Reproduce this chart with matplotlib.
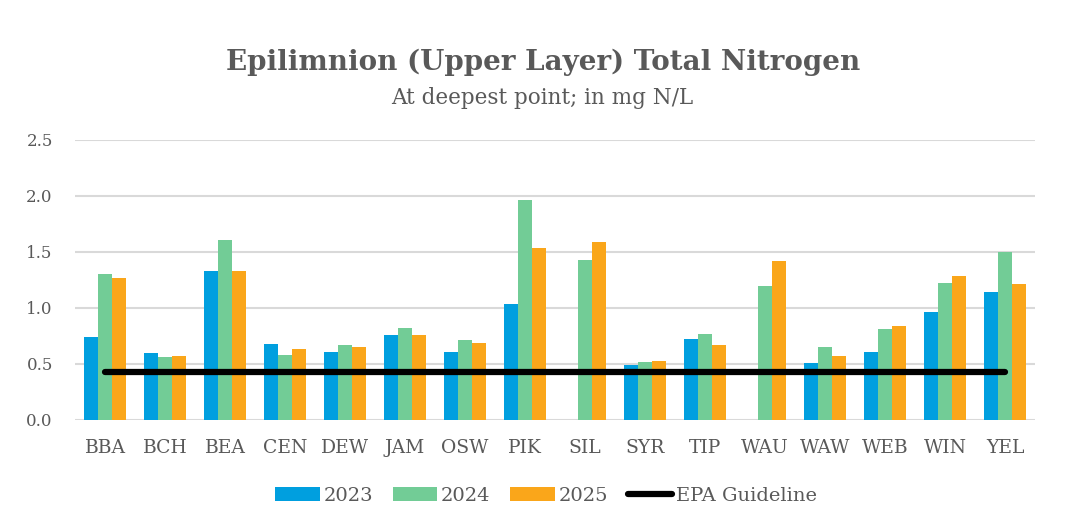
import matplotlib
matplotlib.use("Agg")
import matplotlib.pyplot as plt
import numpy as np
from matplotlib.patches import Patch
from matplotlib.lines import Line2D

categories = ["BBA", "BCH", "BEA", "CEN", "DEW", "JAM", "OSW", "PIK",
              "SIL", "SYR", "TIP", "WAU", "WAW", "WEB", "WIN", "YEL"]
v2023 = [0.74, 0.60, 1.33, 0.68, 0.61, 0.76, 0.61, 1.04,
         np.nan, 0.49, 0.72, np.nan, 0.51, 0.61, 0.96, 1.14]
v2024 = [1.30, 0.56, 1.61, 0.58, 0.67, 0.82, 0.71, 1.96,
         1.43, 0.52, 0.77, 1.20, 0.65, 0.81, 1.22, 1.50]
v2025 = [1.265, 0.57, 1.33, 0.63, 0.65, 0.76, 0.69, 1.54,
         1.59, 0.53, 0.67, 1.42, 0.57, 0.84, 1.29, 1.21]
epa_guideline = 0.43
series_names = ["2023", "2024", "2025"]
yticks = [0.0, 0.5, 1.0, 1.5, 2.0, 2.5]

colors = ["#009FDF", "#72CC96", "#FAA61A"]
text_color = "#595959"
grid_color = "#D9D9D9"
FONT = "DejaVu Serif"

fig = plt.figure(figsize=(10.77, 5.26), dpi=100)
ax = fig.add_axes([75/1077, 1-420/526, (1035-75)/1077, 280/526])

x = np.arange(len(categories))
bw = 0.233
for i, (vals, c) in enumerate(zip([v2023, v2024, v2025], colors)):
    ax.bar(x + (i-1)*bw, vals, width=bw, color=c, zorder=2)

ax.plot([x[0], x[-1]], [epa_guideline, epa_guideline], color="black", lw=4.5,
        solid_capstyle="round", zorder=3)

ax.set_xlim(-0.5, len(categories)-0.5)
ax.set_ylim(0, 2.5)
ax.set_yticks(yticks)
ax.set_yticklabels([f"{t:.1f}" for t in yticks], fontsize=12, color=text_color, family=FONT)
ax.set_xticks(x)
ax.set_xticklabels(categories, fontsize=13.5, color=text_color, family=FONT)
ax.tick_params(axis="both", length=0)
ax.tick_params(axis="y", pad=16)
ax.tick_params(axis="x", pad=14)
ax.yaxis.grid(True, color=grid_color, lw=1.5, zorder=0)
ax.set_axisbelow(True)
for s in ax.spines.values():
    s.set_visible(False)

fig.text(0.504, 1-62/526, "Epilimnion (Upper Layer) Total Nitrogen", ha="center", va="center",
         fontsize=20, fontweight="bold", color=text_color, family=FONT)
fig.text(0.503, 1-98/526, "At deepest point; in mg N/L", ha="center", va="center",
         fontsize=15.5, color=text_color, family=FONT)

handles = [Patch(facecolor=c, edgecolor="none") for c in colors]
handles.append(Line2D([0], [0], color="black", lw=4.5, solid_capstyle="round"))
labels = series_names + ["EPA Guideline"]
leg = fig.legend(handles, labels, loc="center", bbox_to_anchor=(0.507, 1-496/526), ncol=4,
                 frameon=False, handlelength=2.3, handleheight=0.75,
                 handletextpad=0.2, columnspacing=1.0, prop={"family": FONT, "size": 14})
for t in leg.get_texts():
    t.set_color(text_color)

fig.savefig("out.png", dpi=100, facecolor="white")
